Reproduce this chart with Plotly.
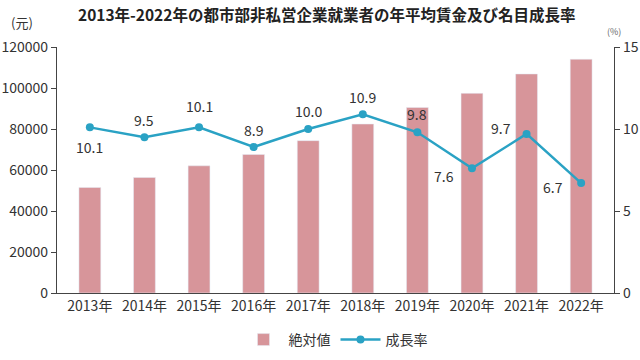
import plotly.graph_objects as go

years = ["2013年", "2014年", "2015年", "2016年", "2017年", "2018年", "2019年", "2020年", "2021年", "2022年"]
wages = [51483, 56360, 62029, 67569, 74318, 82413, 90501, 97379, 106837, 114029]
growth = [10.1, 9.5, 10.1, 8.9, 10.0, 10.9, 9.8, 7.6, 9.7, 6.7]
# label offsets (pixels) relative to each point
label_dx = [0, 0, 0, 0, 0, 0, 0, -28, -26, -28]
label_dy = [-20, 17, 21, 17, 18, 17, 18, -8, 6, -4]

bar_color = "#D7959A"
line_color = "#2AA2C4"
txt = "#333333"
font_fam = "Noto Sans CJK JP, Noto Sans, sans-serif"

fig = go.Figure()
fig.add_trace(go.Bar(x=years, y=wages, name="絶対値", marker_color=bar_color, yaxis="y"))
fig.add_trace(go.Scatter(
    x=years, y=growth, name="成長率", yaxis="y2",
    mode="lines+markers",
    line=dict(color=line_color, width=2.5),
    marker=dict(color=line_color, size=8),
))

annotations = []
for yr, g, dx, dy in zip(years, growth, label_dx, label_dy):
    annotations.append(dict(x=yr, y=g, xref="x", yref="y2", text=f"{g:.1f}",
                            showarrow=False, xshift=dx, yshift=dy,
                            font=dict(size=14, color=txt, family=font_fam)))

axis_common = dict(showgrid=False, showline=True, linecolor="#444", linewidth=1.2,
                   ticks="outside", ticklen=5, tickcolor="#444",
                   tickfont=dict(size=14, color=txt, family=font_fam), zeroline=False)

annotations += [
    dict(text="<b>2013年-2022年の都市部非私営企業就業者の年平均賃金及び名目成長率</b>",
         xref="paper", yref="paper", x=0.483, y=1.134, showarrow=False,
         xanchor="center", yanchor="middle",
         font=dict(size=15.5, color="#222", family="Noto Sans CJK JP")),
    dict(text="(元)", xref="paper", yref="paper", x=-0.04, y=1.10, showarrow=False,
         xanchor="right", yanchor="middle", font=dict(size=13, color=txt, family=font_fam)),
    dict(text="(%)", xref="paper", yref="paper", x=1.0, y=1.065, showarrow=False,
         xanchor="center", yanchor="middle", font=dict(size=9, color="#666", family=font_fam)),
]

fig.update_layout(
    width=640, height=360,
    margin=dict(l=57, r=26, t=47, b=67, autoexpand=False),
    plot_bgcolor="white", paper_bgcolor="white",
    bargap=0.6,
    xaxis=dict(showgrid=False, showline=True, linecolor="#444", linewidth=1.2,
               ticks="", tickfont=dict(size=14, color=txt, family=font_fam)),
    yaxis=dict(range=[0, 120000], dtick=20000, tickformat="d", **axis_common),
    yaxis2=dict(range=[0, 15], dtick=5, overlaying="y", side="right", **axis_common),
    legend=dict(orientation="h", x=0.5, xanchor="center", y=20 / 360, yanchor="middle",
                yref="container",
                font=dict(size=14, color=txt, family=font_fam), itemwidth=40),
    showlegend=True,
    annotations=annotations,
)

fig.write_html("out.html",
               config={"displayModeBar": False},
               post_script="document.body.style.margin='0';document.body.style.overflow='hidden';")
